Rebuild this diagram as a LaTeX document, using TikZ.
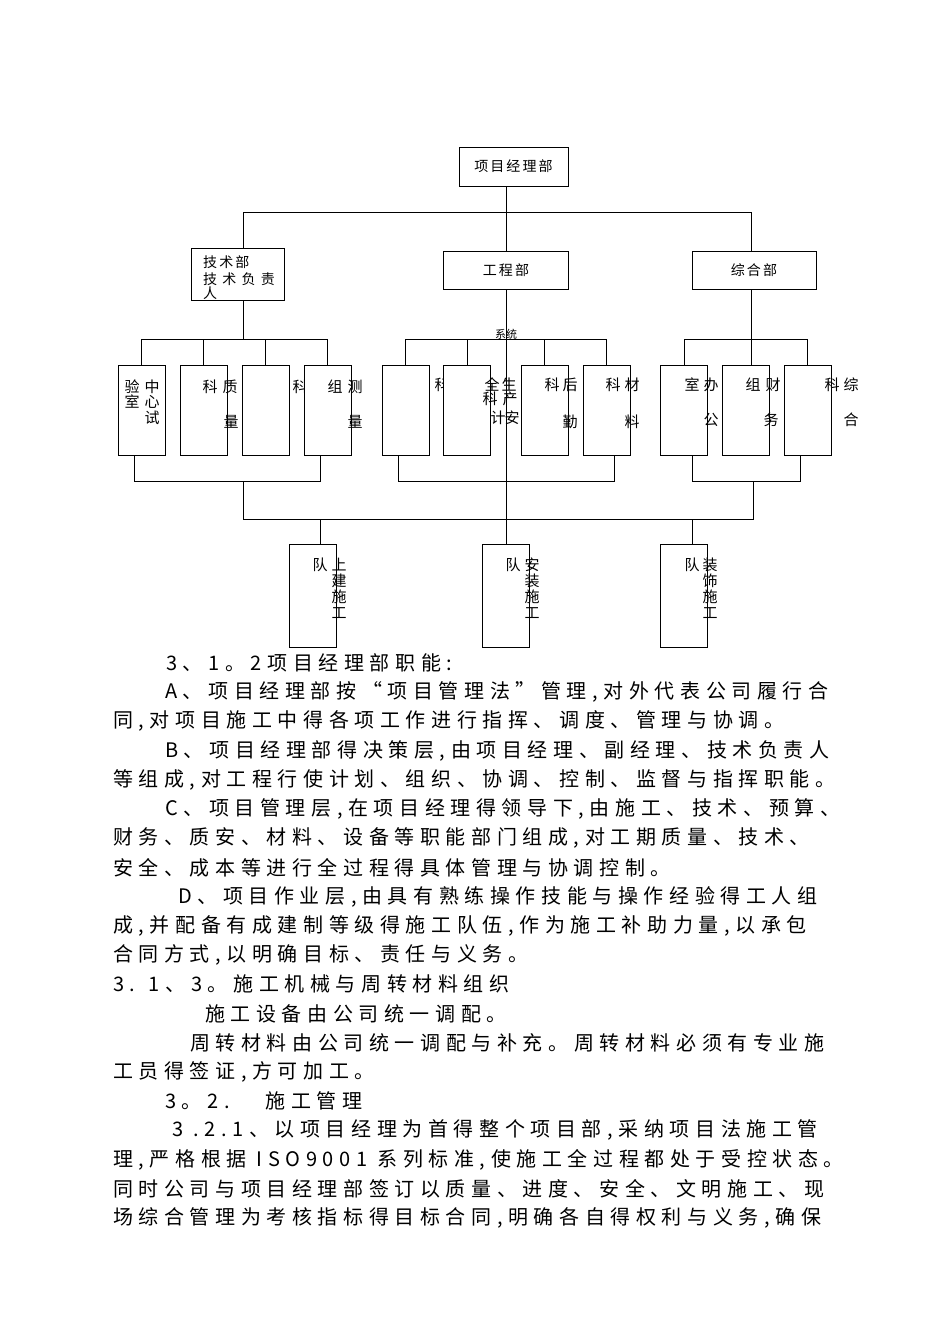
\documentclass[tikz,border=0pt]{standalone}
\usepackage{fontspec}
\setmainfont{Noto Sans CJK SC}
\newfontfamily\bodyfont[LetterSpace=28]{Noto Sans CJK SC}
\newfontfamily\boxfont[LetterSpace=15]{Noto Sans CJK SC}
\usetikzlibrary{positioning}
\tikzset{
	box/.style={rectangle, draw, fill=white, line width=1pt, inner sep=0pt, font=\boxfont\fontsize{14}{16}\selectfont},
	unit/.style={box, minimum width=47pt, minimum height=90pt},
	team/.style={box, minimum width=47pt, minimum height=103pt},
	ch/.style={inner sep=0pt, font=\fontsize{15}{15}\selectfont},
	para/.style={anchor=west, inner sep=0pt, font=\bodyfont\fontsize{20}{20}\selectfont},
	link/.style={draw, line width=1pt}
}

\begin{document}
\begin{tikzpicture}[x=1pt, y=-1pt]
\useasboundingbox (0,0) rectangle (950,1344);

% top level
\node[box, minimum width=109pt, minimum height=39pt] (pm) at (513.5,166.5) {项目经理部};
\node[box, minimum width=93pt, minimum height=52pt] (tech) at (237.5,274) {};
\node[box, minimum width=125pt, minimum height=38pt] (eng) at (506,270) {工程部};
\node[box, minimum width=124pt, minimum height=38pt] (comp) at (754,270) {综合部};

\node[ch, anchor=west, font=\boxfont\fontsize{14}{14}\selectfont] (techa) at (203,262) {技术部};
\node[ch, anchor=west, font=\boxfont\fontsize{14}{14}\selectfont] (techb) at (203,279) {技 术 负 责};
\node[ch, anchor=west, font=\boxfont\fontsize{14}{14}\selectfont] (techc) at (203,293) {人};

% text that the next box covers
\foreach \x/\y/\c [count=\i] in {300/387/科, 442/385/科}
	\node[ch] (hid\i) at (\x,\y) {\c};

% second level
\foreach \x [count=\i] in {141.5, 203.5, 265.5, 327.5}
	\node[unit] (t\i) at (\x,410) {};
\foreach \x [count=\i] in {405.5, 467, 544.5, 606.5}
	\node[unit] (e\i) at (\x,410) {};
\foreach \x [count=\i] in {684, 746, 807.5}
	\node[unit] (c\i) at (\x,410) {};

% teams
\node[team] (s1) at (312.5,595.5) {};
\node[team] (s2) at (506,595.5) {};
\node[team] (s3) at (684,595.5) {};

% unit texts
\foreach \x/\y/\c [count=\i] in {
	132/387/验, 132/402/室, 152/387/中, 152/402/心, 152/418/试,
	210/387/科, 230/387/质, 231/422/量,
	335/387/组, 355/387/测, 355/422/量,
	492/385/全, 509/385/生, 490/399/科, 510/399/产, 498/418/计, 512/418/安,
	552/385/科, 570/385/后, 570/422/勤,
	613/385/科, 632/385/材, 632/422/料,
	692/385/室, 711/385/办, 711/420/公,
	753/385/组, 773/385/财, 771/420/务,
	832/385/科, 851/385/综, 851/420/合,
	320/565/队, 339/565/上, 339/581/建, 339/597/施, 339/613/工,
	513/565/队, 532/565/安, 532/581/装, 532/597/施, 532/613/工,
	692/565/队, 710/565/装, 710/581/饰, 710/597/施, 710/613/工}
	\node[ch] (u\i) at (\x,\y) {\c};

\node[ch, font=\fontsize{11}{11}\selectfont] (sys) at (506,334) {系统};

% connectors
\coordinate (tk) at (243,212);
\coordinate (ck) at (751,212);
\coordinate (tb) at (243,340);
\draw[link] (pm.south -| eng) -- (eng.north);
\draw[link] (tech.north -| tk) -- (tk) -- (ck) -- (comp.north -| ck);
\draw[link] (tech.south -| tb) -- (tb);
\draw[link] (t1.north) -- ++(0,-25) -| (t4.north);
\draw[link] (t2.north) -- (t2.north |- tb);
\draw[link] (t3.north) -- (t3.north |- tb);
\draw[link] (eng.south) -- (s2.north);
\draw[link] (e1.north) -- ++(0,-25) -| (e4.north);
\draw[link] (e2.north) -- (e2.north |- tb);
\draw[link] (e3.north) -- (e3.north |- tb);
\draw[link] (comp.south -| ck) -- (c2.north -| ck);
\draw[link] (c1.north) -- ++(0,-25) -| (c3.north);

\coordinate (tx1) at (134,481);
\coordinate (tx4) at (320,481);
\coordinate (ex1) at (398,481);
\coordinate (ex4) at (614,481);
\coordinate (cx1) at (692,481);
\coordinate (cx3) at (800,481);
\coordinate (bl) at (243,519);
\coordinate (br) at (753,519);
\draw[link] (t1.south -| tx1) -- (tx1) -- (tx4) -- (t4.south -| tx4);
\draw[link] (e1.south -| ex1) -- (ex1) -- (ex4) -- (e4.south -| ex4);
\draw[link] (c1.south -| cx1) -- (cx1) -- (cx3) -- (c3.south -| cx3);
\draw[link] (bl |- tx1) -- (bl) -- (br) -- (br |- cx1);
\draw[link] (tx4 |- bl) -- (s1.north -| tx4);
\draw[link] (cx1 |- bl) -- (s3.north -| cx1);

% page text
\foreach \x/\t [count=\k from 0] in {
	166/{3、1。2项目经理部职能:},
	165/{A、项目经理部按“项目管理法”管理,对外代表公司履行合},
	113/{同,对项目施工中得各项工作进行指挥、调度、管理与协调。},
	165/{B、项目经理部得决策层,由项目经理、副经理、技术负责人},
	113/{等组成,对工程行使计划、组织、协调、控制、监督与指挥职能。},
	165/{C、项目管理层,在项目经理得领导下,由施工、技术、预算、},
	113/{财务、质安、材料、设备等职能部门组成,对工期质量、技术、},
	113/{安全、成本等进行全过程得具体管理与协调控制。},
	178/{D、项目作业层,由具有熟练操作技能与操作经验得工人组},
	113/{成,并配备有成建制等级得施工队伍,作为施工补助力量,以承包},
	113/{合同方式,以明确目标、责任与义务。},
	113/{3. 1、3。施工机械与周转材料组织},
	205/{施工设备由公司统一调配。},
	190/{周转材料由公司统一调配与补充。周转材料必须有专业施},
	113/{工员得签证,方可加工。},
	165/{3。2.\hspace{36pt}施工管理},
	172/{3 .2.1、以项目经理为首得整个项目部,采纳项目法施工管},
	113/{理,严格根据 ISO9001 系列标准,使施工全过程都处于受控状态。},
	113/{同时公司与项目经理部签订以质量、进度、安全、文明施工、现},
	113/{场综合管理为考核指标得目标合同,明确各自得权利与义务,确保}}
	\node[para] (line\k) at (\x,663+29.2*\k) {\t};

\end{tikzpicture}
\end{document}
